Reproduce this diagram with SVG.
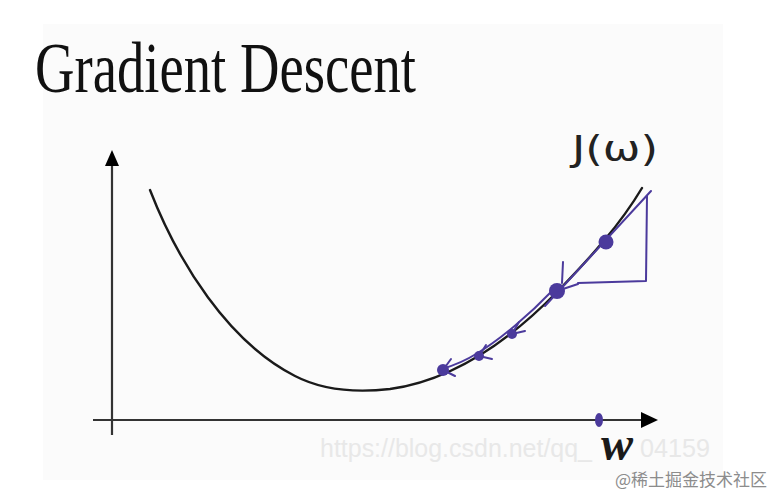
<svg xmlns="http://www.w3.org/2000/svg" width="776" height="500" viewBox="0 0 776 500">
  <defs>
    <style>
      .axis { stroke: #333; stroke-width: 2.2; fill: none; }
      .curve { stroke: #1a1a1a; stroke-width: 2.4; fill: none; stroke-linecap: round; }
      .pen { stroke: #4b3a9c; stroke-width: 2; fill: none; stroke-linecap: round; stroke-linejoin: round; }
      .dot { fill: #4b3a9c; }
      .wm { font-family: "Liberation Sans", Arial, sans-serif; font-size: 25px; fill: #e8e8e8; }
    </style>
  </defs>

  <rect x="0" y="0" width="776" height="500" fill="#ffffff"/>
  <rect x="43" y="24" width="680" height="456" fill="#fbfbfb"/>

  <g id="title">
    <text x="35" y="92" font-family="'Liberation Serif', 'DejaVu Serif', serif" font-size="72" fill="#111" textLength="381" lengthAdjust="spacingAndGlyphs">Gradient Descent</text>
  </g>

  <g id="watermarks">
    <text class="wm" x="320" y="457" textLength="272" lengthAdjust="spacingAndGlyphs">https://blog.csdn.net/qq_</text>
    <text class="wm" x="640" y="457" textLength="70" lengthAdjust="spacingAndGlyphs">04159</text>
    <text x="615" y="486" font-family="'Noto Sans CJK SC', 'Noto Sans', sans-serif" font-size="17" fill="#8c8c8c">@稀土掘金技术社区</text>
  </g>

  <g id="axes">
    <line class="axis" x1="112" y1="435" x2="112" y2="165"/>
    <path d="M105,166 L112,150 L119,166 Z" fill="#000"/>
    <line class="axis" x1="93" y1="420" x2="642" y2="420"/>
    <path d="M641,412 L658,420 L641,428 Z" fill="#000"/>
  </g>

  <g id="cost-curve">
    <path class="curve" d="M150,190 C178,262 228,342 295,376 C322,390 355,393 390,389 C455,380 510,340 557,292 C590,258 620,225 642,188"/>
  </g>

  <g id="tangent-triangle">
    <path class="pen" d="M651,191 L545,306"/>
    <path class="pen" d="M647,196 L646,281 L578,283"/>
  </g>

  <g id="descent-steps">
    <path class="pen" stroke-width="1.6" d="M553,290 C530,314 500,340 476,354 C465,361 455,365 442,369"/>
    <circle class="dot" cx="606" cy="242" r="7.5"/>
    <circle class="dot" cx="557" cy="291" r="8"/>
    <path class="pen" d="M563,262 L562,283 M557,291 L578,284"/>
    <circle class="dot" cx="512" cy="334" r="5"/>
    <path class="pen" d="M512,334 L519,322 M512,334 L525,331"/>
    <circle class="dot" cx="479" cy="356" r="5"/>
    <path class="pen" d="M479,356 L486,345 M479,356 L492,359"/>
    <circle class="dot" cx="443" cy="370" r="6"/>
    <path class="pen" d="M443,370 L451,359 M443,370 L455,376"/>
    <ellipse class="dot" cx="599" cy="420" rx="4" ry="7"/>
  </g>

  <g id="labels">
    <text x="572" y="161" font-family="'DejaVu Sans', sans-serif" font-size="36" fill="#222" textLength="86" lengthAdjust="spacingAndGlyphs">J(ω)</text>
    <text x="601" y="460" font-family="'Liberation Serif', serif" font-style="italic" font-weight="bold" font-size="48" fill="#1a1a1a">w</text>
  </g>
</svg>
